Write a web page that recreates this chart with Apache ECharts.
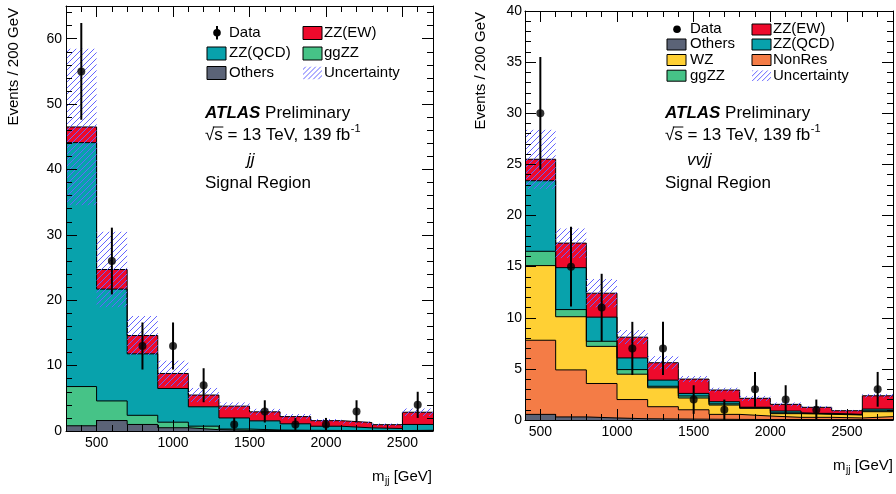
<!DOCTYPE html>
<html><head><meta charset="utf-8">
<script src="https://cdn.jsdelivr.net/npm/echarts@6/dist/echarts.min.js"></script>
<style>html,body{margin:0;padding:0;background:#fff}#c{width:896px;height:494px}</style>
</head><body><div id="c"></div>
<script>
// ---------------- data: left panel ----------------
const binEdgesL = [300,500,700,900,1100,1300,1500,1700,1900,2100,2300,2500,2700];
const othersL = [0.8,1.6,1.0,0.5,0.2,0.1,0.08,0.06,0.05,0.04,0.04,0.06];
const ggzzL   = [6.0,3.0,1.4,0.85,0.54,0.2,0.07,0.05,0.03,0.03,0.02,0.05];
const qcdL    = [37.3,17.1,9.4,5.15,2.96,1.7,1.4,0.99,0.65,0.41,0.32,0.89];
const ewL     = [2.4,3.0,2.8,2.3,1.8,1.8,1.38,1.1,0.85,0.82,0.59,1.87];
const uncL    = [12,5.8,3.0,2.0,1.1,0.6,0.5,0.4,0.25,0.2,0.2,0.6];
const dataL   = [55,26,13,13,7,1,3,1,1,3,null,4];
const errL    = [7.4,5.1,3.6,3.6,2.6,1.0,1.7,1.0,1.0,1.7,null,2.0];
const xTicksL = [500,1000,1500,2000,2500];
const yTicksL = [0,10,20,30,40,50,60];
const yMaxL = 65;

// ---------------- data: right panel ----------------
const binEdgesR = [400,600,800,1000,1200,1400,1600,1800,2000,2200,2400,2600,2800];
const othersR = [0.55,0.3,0.2,0.12,0.1,0.08,0.06,0.05,0.05,0.04,0.04,0.05];
const nonresR = [7.25,4.6,3.37,1.88,1.2,0.92,0.49,0.34,0.21,0.22,0.16,0.28];
const wzR     = [7.3,5.2,3.63,2.48,1.85,1.15,0.91,0.75,0.36,0.30,0.29,0.48];
const ggzzR   = [1.4,0.7,0.5,0.45,0.15,0.2,0.12,0.06,0.08,0.04,0.03,0.09];
const qcdR    = [6.9,4.1,2.36,1.14,0.6,0.25,0.21,0.05,0.18,0.05,0.03,0.17];
const ewR     = [2.1,2.4,2.34,2.03,1.7,1.4,1.14,0.87,0.65,0.59,0.36,1.3];
const uncR    = [2.9,1.45,1.4,0.7,0.65,0.3,0.25,0.25,0.2,0.15,0.1,0.2];
const dataR   = [30,15,11,7,7,2,1,3,2,1,null,3];
const errR    = [5.5,3.9,3.3,2.6,2.6,1.4,1.0,1.7,1.4,1.0,null,1.7];
const xTicksR = [500,1000,1500,2000,2500];
const yTicksR = [0,5,10,15,20,25,30,35,40];
const yMaxR = 40;

// minor tick steps
const xMinorStep = 100, yMinorStepL = 2, yMinorStepR = 1;

// ---------------- styles ----------------
const FONT = "'Liberation Sans', Arial, Helvetica, sans-serif";
const C_EW = '#ee0a2c', C_QCD = '#08a2ac', C_GG = '#46c387', C_OTH = '#5b6377',
      C_WZ = '#ffd034', C_NR = '#f47c46', C_HATCH = '#6464ff';
const HATCH_STEP = 6;

const mctx = document.createElement('canvas').getContext('2d');
function textW(s, size, style){ mctx.font = (style||'') + ' ' + size + 'px ' + FONT; return mctx.measureText(s).width; }

function cumulative(arrs){
  const out = []; let run = arrs[0].map(()=>0);
  arrs.forEach(a=>{ run = run.map((r,i)=>r+a[i]); out.push(run.slice()); });
  return out;
}
function stepData(edges, vals){
  const d = vals.map((v,i)=>[edges[i], v]);
  d.push([edges[edges.length-1], vals[vals.length-1]]);
  return d;
}
function centers(edges){ return edges.slice(0,-1).map((e,i)=>(e+edges[i+1])/2); }

// filled histogram layer (cumulative top, filled to zero; top layer drawn first)
function histSeries(xi, yi, name, edges, cumVals, color){
  return {type:'line', name, xAxisIndex:xi, yAxisIndex:yi, step:'end',
    symbol:'none', showSymbol:false, silent:true, z:2,
    data: stepData(edges, cumVals),
    lineStyle:{color:'#000', width:1},
    areaStyle:{color, opacity:1}};
}
function hatchGroup(x0, y0, x1, y1, S, ox, oy){
  const kids = [];
  let c = ox + oy + Math.ceil((x0 + y0 - ox - oy) / S) * S;
  for (; c <= x1 + y1; c += S){
    kids.push({type:'line', shape:{x1:c - y1, y1:y1, x2:c - y0, y2:y0}, style:{stroke:C_HATCH, lineWidth:1}});
  }
  return {type:'group', children:kids, clipPath:{type:'rect', shape:{x:x0, y:y0, width:x1-x0, height:y1-y0}}};
}
function uncSeries(xi, yi, edges, total, unc){
  const d = total.map((t,i)=>[edges[i], edges[i+1], t-unc[i], t+unc[i]]);
  return {type:'custom', name:'Uncertainty', xAxisIndex:xi, yAxisIndex:yi, z:3, silent:true,
    data:d, encode:{x:[0,1], y:[2,3]},
    renderItem:function(p, api){
      const a = api.coord([api.value(0), api.value(3)]);
      const b = api.coord([api.value(1), api.value(2)]);
      return hatchGroup(a[0], a[1], b[0], b[1], HATCH_STEP, p.coordSys.x, p.coordSys.y + p.coordSys.height);
    }};
}
function dataSeries(xi, yi, edges, vals, errs){
  const cs = centers(edges);
  const pts = [], ebs = [];
  vals.forEach((v,i)=>{ if(v!=null){ pts.push([cs[i], v]); ebs.push([cs[i], v, errs[i]]); } });
  return [
    {type:'custom', name:'Data-err', xAxisIndex:xi, yAxisIndex:yi, z:4, silent:true, data: ebs,
     encode:{x:0, y:1},
     renderItem:function(p, api){
       const x = api.value(0), y = api.value(1), e = api.value(2);
       const a = api.coord([x, Math.max(0, y-e)]), b = api.coord([x, y+e]);
       return {type:'line', shape:{x1:a[0], y1:a[1], x2:b[0], y2:b[1]}, style:{stroke:'#000', lineWidth:2}};
     }},
    {type:'scatter', name:'Data', xAxisIndex:xi, yAxisIndex:yi, z:5, silent:true, data: pts,
     symbol:'circle', symbolSize:8, itemStyle:{color:'#000'}}
  ];
}

// ---------------- axes (ROOT style: inward ticks on all four sides) ----------------
const LINE = {show:true, onZero:false, lineStyle:{color:'#000', width:1}};
const NOLINE = {show:false, onZero:false};
const LBL = {color:'#000', fontSize:14, fontFamily:FONT, formatter:function(v){ return String(v); }};
function majorTick(ticks){ return {show:true, inside:true, length:11, customValues:ticks, lineStyle:{color:'#000', width:1}}; }
const MINOR = {show:true, inside:true, length:6, lineStyle:{color:'#000', width:1}};

function xAxesFor(g, edges, ticks, step){
  const base = {type:'value', gridIndex:g, min:edges[0], max:edges[edges.length-1], splitLine:{show:false}, z:10};
  return [
    Object.assign({}, base, {position:'bottom', axisLine:LINE, axisTick:majorTick(ticks),
      axisLabel:Object.assign({show:true, customValues:ticks, margin:5}, LBL)}),
    Object.assign({}, base, {position:'bottom', interval:step, axisLine:NOLINE, axisTick:MINOR, axisLabel:{show:false}}),
    Object.assign({}, base, {position:'top', axisLine:LINE, axisTick:majorTick(ticks), axisLabel:{show:false}}),
    Object.assign({}, base, {position:'top', interval:step, axisLine:NOLINE, axisTick:MINOR, axisLabel:{show:false}})
  ];
}
function yAxesFor(g, max, ticks, step, margin){
  const base = {type:'value', gridIndex:g, min:0, max:max, splitLine:{show:false}, z:10};
  return [
    Object.assign({}, base, {position:'left', axisLine:LINE, axisTick:majorTick(ticks),
      axisLabel:Object.assign({show:true, customValues:ticks, margin:margin}, LBL)}),
    Object.assign({}, base, {position:'left', interval:step, axisLine:NOLINE, axisTick:MINOR, axisLabel:{show:false}}),
    Object.assign({}, base, {position:'right', axisLine:LINE, axisTick:majorTick(ticks), axisLabel:{show:false}}),
    Object.assign({}, base, {position:'right', interval:step, axisLine:NOLINE, axisTick:MINOR, axisLabel:{show:false}})
  ];
}

// ---------------- series ----------------
const cumL = cumulative([othersL, ggzzL, qcdL, ewL]);
const cumR = cumulative([othersR, nonresR, wzR, ggzzR, qcdR, ewR]);
const namesL = ['Others','ggZZ','ZZ(QCD)','ZZ(EW)'], colorsL = [C_OTH, C_GG, C_QCD, C_EW];
const namesR = ['Others','NonRes','WZ','ggZZ','ZZ(QCD)','ZZ(EW)'], colorsR = [C_OTH, C_NR, C_WZ, C_GG, C_QCD, C_EW];

const series = [];
for (let k = cumL.length - 1; k >= 0; k--) series.push(histSeries(0,0,namesL[k],binEdgesL,cumL[k],colorsL[k]));
series.push(uncSeries(0,0,binEdgesL,cumL[cumL.length-1],uncL));
series.push(...dataSeries(0,0,binEdgesL,dataL,errL));
for (let k = cumR.length - 1; k >= 0; k--) series.push(histSeries(4,4,namesR[k],binEdgesR,cumR[k],colorsR[k]));
series.push(uncSeries(4,4,binEdgesR,cumR[cumR.length-1],uncR));
series.push(...dataSeries(4,4,binEdgesR,dataR,errR));

// ---------------- annotations ----------------
function txt(x, y, text, size, extra){
  return Object.assign({type:'text', x:x, y:y, z:20, silent:true,
    style:Object.assign({text:text, fill:'#000', fontSize:size, fontFamily:FONT,
      align:'left', verticalAlign:'middle', textAlign:'left', textVerticalAlign:'middle'}, (extra&&extra.style)||{})},
    extra && extra.el || {});
}
function box(x, y, w, h, fill){
  return {type:'rect', z:20, silent:true, shape:{x:x, y:y, width:w, height:h}, style:{fill:fill, stroke:'#000', lineWidth:1}};
}
function hatchBox(x, y, w, h){
  const g = hatchGroup(x, y, x + w, y + h, 5, x, y + h); g.z = 20; g.silent = true; return g;
}
function atlasBlock(x, chan, chanX){
  const base = '√s = 13 TeV, 139 fb';
  const wRad = textW('√', 17), wRs = textW('√s', 17), wBase = textW(base, 17);
  return [
    txt(x, 113, '{b|ATLAS} {r|Preliminary}', 17, {style:{rich:{
      b:{fontStyle:'italic', fontWeight:'bold', fontSize:17, fontFamily:FONT},
      r:{fontSize:17, fontFamily:FONT}}}}),
    txt(x, 135, base, 17),
    {type:'line', z:20, silent:true, shape:{x1:x + wRad - 1.5, y1:127, x2:x + wRs + 0.5, y2:127}, style:{stroke:'#000', lineWidth:1}},
    txt(x + wBase + 0.5, 129, '-1', 11),
    txt(chanX, 160, chan, 17, {style:{fontStyle:'italic'}}),
    txt(x, 183, 'Signal Region', 17)
  ];
}
function xTitle(rightX, y){
  const wG = textW(' [GeV]', 15), wj = textW('jj', 10);
  return [
    txt(rightX - wG - wj - 0.5, y, 'm', 15, {style:{align:'right', textAlign:'right'}}),
    txt(rightX - wG - wj, y + 4, 'jj', 10),
    txt(rightX, y, ' [GeV]', 15, {style:{align:'right', textAlign:'right'}})
  ];
}
function yTitle(x, y){
  return txt(x, y, 'Events / 200 GeV', 15, {style:{align:'right', textAlign:'right'}, el:{rotation:Math.PI/2}});
}

const graphic = [
  // left legend
  {type:'line', z:20, silent:true, shape:{x1:217, y1:26, x2:217, y2:39.5}, style:{stroke:'#000', lineWidth:2}},
  {type:'circle', z:20, silent:true, shape:{cx:217, cy:32.7, r:3.8}, style:{fill:'#000'}},
  txt(229, 32.7, 'Data', 15),
  box(303, 26.5, 19, 13, C_EW), txt(324, 32.7, 'ZZ(EW)', 15),
  box(207, 47, 19, 13, C_QCD), txt(229, 53.3, 'ZZ(QCD)', 15),
  box(303, 47, 19, 13, C_GG), txt(324, 53.3, 'ggZZ', 15),
  box(207, 66.5, 19, 13, C_OTH), txt(229, 72.7, 'Others', 15),
  hatchBox(303, 66.5, 19, 13), txt(324, 72.7, 'Uncertainty', 15),
  // right legend
  {type:'circle', z:20, silent:true, shape:{cx:677, cy:29.3, r:3.8}, style:{fill:'#000'}},
  txt(690, 29.3, 'Data', 15),
  box(752, 24, 19, 11, C_EW), txt(773, 29.3, 'ZZ(EW)', 15),
  box(667, 39, 19, 11, C_OTH), txt(690, 44.3, 'Others', 15),
  box(752, 39, 19, 11, C_QCD), txt(773, 44.3, 'ZZ(QCD)', 15),
  box(667, 54.5, 19, 11, C_WZ), txt(690, 60, 'WZ', 15),
  box(752, 54.5, 19, 11, C_NR), txt(773, 60, 'NonRes', 15),
  box(667, 70.2, 19, 11, C_GG), txt(690, 75.7, 'ggZZ', 15),
  hatchBox(752, 70.2, 19, 11), txt(773, 75.7, 'Uncertainty', 15),
  ...atlasBlock(205, 'jj', 247),
  ...atlasBlock(665, 'vvjj', 687),
  ...xTitle(432, 477),
  ...xTitle(893, 466),
  yTitle(14, 8),
  yTitle(481, 12)
];

const chart = echarts.init(document.getElementById('c'), null, {renderer:'canvas'});
chart.setOption({
  animation:false,
  backgroundColor:'#fff',
  textStyle:{fontFamily:FONT},
  grid:[
    {left:66, top:6, width:367, height:425, containLabel:false},
    {left:525, top:11, width:368, height:409, containLabel:false}
  ],
  xAxis:[...xAxesFor(0, binEdgesL, xTicksL, xMinorStep), ...xAxesFor(1, binEdgesR, xTicksR, xMinorStep)],
  yAxis:[...yAxesFor(0, yMaxL, yTicksL, yMinorStepL, 4), ...yAxesFor(1, yMaxR, yTicksR, yMinorStepR, 3)],
  series: series,
  graphic: graphic
});
</script>
</body></html>
